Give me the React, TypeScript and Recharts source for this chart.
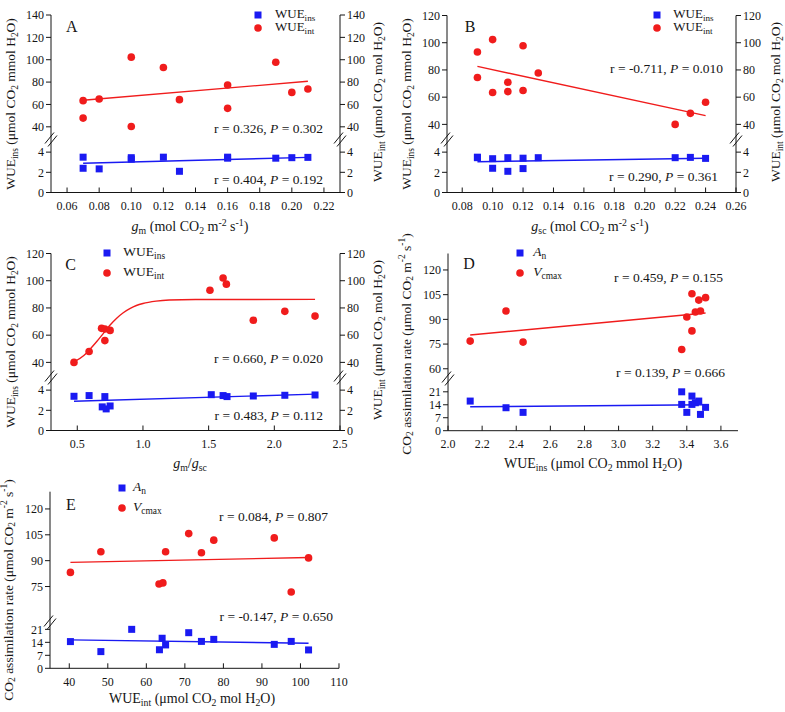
import React from "react";
import { ScatterChart, Scatter, XAxis, YAxis, Legend } from "recharts";

type Pt = { x: number; y: number };
const zip = (xs: number[], ys: number[]): Pt[] => xs.map((x, i) => ({ x, y: ys[i] }));

const FONT = "'Liberation Serif', 'Times New Roman', serif";
const INK = "#151515";
const BLUE = "#1a1af2";
const RED = "#f01c1c";
const X_AXIS_H = 30;

// A: WUE against mesophyll conductance
const gmX = [0.07, 0.07, 0.08, 0.1, 0.1, 0.12, 0.13, 0.16, 0.16, 0.19, 0.2, 0.21];
const gmWueInt = [63.4, 47.8, 64.9, 102.3, 40.3, 93, 64.3, 77.4, 56.5, 97.8, 70.8, 73.8];
const gmWueIns = [3.5, 2.4, 2.34, 3.3, 3.45, 3.5, 2.1, 3.4, 3.5, 3.4, 3.45, 3.48];
const gmFitX = [0.07, 0.21];
const gmFitInt = [63.8, 80.7];
const gmFitIns = [2.9, 3.48];

// B: WUE against stomatal conductance
const gscX = [0.09, 0.09, 0.1, 0.1, 0.11, 0.11, 0.12, 0.12, 0.13, 0.22, 0.23, 0.24];
const gscWueInt = [93.2, 74.5, 102.3, 63.4, 71, 64.1, 97.8, 64.9, 77.7, 40, 48.1, 56.3];
const gscWueIns = [3.5, 3.45, 3.35, 2.4, 3.45, 2.1, 3.4, 2.37, 3.45, 3.45, 3.48, 3.38];
const gscFitX = [0.09, 0.24];
const gscFitInt = [82.6, 46.4];
const gscFitIns = [3.05, 3.4];

// C: WUE against gm/gsc
const ratioIntX = [0.475, 0.59, 0.685, 0.71, 0.71, 0.75, 1.51, 1.61, 1.635, 1.84, 2.08, 2.31];
const ratioWueInt = [40, 48, 65, 64.5, 56, 63.5, 93, 102, 97.5, 71, 77.5, 74];
const ratioInsX = [0.475, 0.59, 0.69, 0.71, 0.72, 0.75, 1.52, 1.61, 1.64, 1.84, 2.08, 2.31];
const ratioWueIns = [3.39, 3.46, 2.34, 3.36, 2.14, 2.43, 3.55, 3.46, 3.36, 3.42, 3.49, 3.52];
const ratioCurveX = [0.475, 0.55, 0.6, 0.65, 0.7, 0.75, 0.8, 0.85, 0.9, 0.95, 1.0, 1.1, 1.2, 1.4, 2.31];
const ratioCurveY = [40.3, 45, 50, 55.5, 61.5, 67.5, 72.5, 76.5, 79.5, 81.8, 83.3, 85, 85.8, 86.2, 86.3];
const ratioFitX = [0.475, 2.31];
const ratioFitIns = [2.9, 3.6];

// D: An and Vcmax against WUEins
const insVX = [2.13, 2.34, 2.44, 3.37, 3.4, 3.43, 3.43, 3.45, 3.47, 3.48, 3.51];
const insVcmax = [76.8, 95.1, 76.2, 71.7, 91.4, 105.6, 83, 94.5, 101.7, 95.1, 103.2];
const insAX = [2.13, 2.34, 2.44, 3.37, 3.37, 3.4, 3.43, 3.43, 3.45, 3.47, 3.48, 3.51];
const insAn = [16, 12.4, 9.9, 21, 14.2, 9.9, 18.7, 14.2, 15.1, 16, 8.8, 12.6];
const insFitX = [2.13, 3.51];
const insFitV = [80.5, 93.9];
const insFitA = [12.9, 14];

// E: An and Vcmax against WUEint
const intVX = [40.3, 48.2, 63.3, 64.3, 65, 71, 74.3, 77.5, 93.2, 97.6, 102.1];
const intVcmax = [83.2, 95.2, 76.5, 77.1, 95.2, 105.7, 94.6, 101.9, 103.2, 71.8, 91.6];
const intAX = [40.3, 48.2, 56.2, 63.4, 64.1, 65, 71, 74.3, 77.5, 93.2, 97.6, 102.1];
const intAn = [14.4, 9, 21, 10, 16.2, 12.6, 19.2, 14.5, 15.6, 12.9, 14.5, 9.9];
const intFitX = [40.3, 102.1];
const intFitV = [89, 91.8];
const intFitA = [15.3, 13.5];

const Sub = ({ children }: { children: React.ReactNode }) => (
  <span style={{ fontSize: "0.7em", verticalAlign: "-0.3em" }}>{children}</span>
);
const Sup = ({ children }: { children: React.ReactNode }) => (
  <span style={{ fontSize: "0.7em", verticalAlign: "0.55em" }}>{children}</span>
);

const WueIns = () => <>WUE<Sub>ins</Sub></>;
const WueInt = () => <>WUE<Sub>int</Sub></>;
const An = () => <><i>A</i><Sub>n</Sub></>;
const Vcmax = () => <><i>V</i><Sub>cmax</Sub></>;

const Square = (p: any) => <rect x={p.cx - 3.5} y={p.cy - 3.5} width={7} height={7} fill={BLUE} />;
const Dot = (p: any) => <circle cx={p.cx} cy={p.cy} r={3.8} fill={RED} />;
const NoMark = () => <g />;

type Series = { pts: Pt[]; fit: Pt[]; curved?: boolean };
type LegendItem = { label: React.ReactNode; mark: "square" | "circle" };

interface PanelProps {
  left: number;
  right: number;
  top: number;
  plotL: number;
  plotR: number;
  plotT: number;
  brk: number;
  plotB: number;
  xDomain: [number, number];
  xTicks: number[];
  xDigits: number;
  upDomain: [number, number];
  upTicks: number[];
  lowDomain: [number, number];
  lowTicks: number[];
  rightAxis: boolean;
  upper: Series;
  lower: Series;
  legend: { items: LegendItem[]; mx: number; my: number; gap: number; tx: number; size: number };
}

function BrokenAxisPanel(p: PanelProps) {
  const width = p.right - p.left;
  const leftW = p.plotL - p.left;
  const rightW = p.right - p.plotR;
  const tick = { fontSize: 12, fontFamily: FONT, fill: INK };
  const line = { stroke: INK, strokeWidth: 1 };

  const yAxes = (domain: [number, number], ticks: number[]) => [
    <YAxis key="l" yAxisId="l" type="number" dataKey="y" domain={domain} ticks={ticks} allowDataOverflow
      interval={0} width={leftW} tickSize={5} tickMargin={2} tick={tick} axisLine={line} tickLine={line} />,
    p.rightAxis ? (
      <YAxis key="r" yAxisId="r" orientation="right" type="number" domain={domain} ticks={ticks} allowDataOverflow
        interval={0} width={rightW} tickSize={5} tickMargin={2} tick={tick} axisLine={line} tickLine={line} />
    ) : null,
  ];

  const series = (s: Series, color: string, mark: any) => [
    <Scatter key="fit" yAxisId="l" data={s.fit} line={{ stroke: color, strokeWidth: 1.4 }}
      lineJointType={s.curved ? "monotoneX" : "linear"} shape={NoMark} legendType="none" isAnimationActive={false} />,
    <Scatter key="pts" yAxisId="l" data={s.pts} shape={mark} isAnimationActive={false} />,
  ];

  const lg = p.legend;
  const legendContent = () => (
    <div style={{ fontFamily: FONT, fontSize: lg.size, color: INK, lineHeight: 1 }}>
      {lg.items.map((it, i) => (
        <div key={i} style={{ display: "flex", alignItems: "center", height: lg.gap }}>
          <svg width={10} height={10} style={{ flex: "none" }}>
            {it.mark === "square" ? (
              <rect x={1.5} y={1.5} width={7} height={7} fill={BLUE} />
            ) : (
              <circle cx={5} cy={5} r={3.8} fill={RED} />
            )}
          </svg>
          <span style={{ marginLeft: lg.tx - lg.mx - 5, whiteSpace: "nowrap" }}>{it.label}</span>
        </div>
      ))}
    </div>
  );

  // break marks where the y axis jumps from the lower to the upper scale
  const breakXs = p.rightAxis ? [p.plotL, p.plotR] : [p.plotL];
  const by = p.brk + 1.5;

  return (
    <>
      <div style={{ position: "absolute", left: p.left, top: p.top }}>
        <ScatterChart width={width} height={p.brk - p.top}
          margin={{ top: p.plotT - p.top, right: p.rightAxis ? 0 : rightW, bottom: 0, left: 0 }}>
          <XAxis type="number" dataKey="x" domain={p.xDomain} allowDataOverflow hide />
          {yAxes(p.upDomain, p.upTicks)}
          {series(p.upper, RED, Dot)}
          <Legend layout="vertical" align="center" verticalAlign="middle" content={legendContent}
            wrapperStyle={{ left: lg.mx - 5 - p.left, top: lg.my - lg.gap / 2 - p.top, width: "auto" }} />
        </ScatterChart>
      </div>
      <div style={{ position: "absolute", left: p.left, top: p.brk }}>
        <ScatterChart width={width} height={p.plotB - p.brk + X_AXIS_H}
          margin={{ top: 0, right: p.rightAxis ? 0 : rightW, bottom: 0, left: 0 }}>
          <XAxis type="number" dataKey="x" domain={p.xDomain} ticks={p.xTicks} allowDataOverflow interval={0}
            height={X_AXIS_H} tickSize={-5} tickMargin={14} tick={tick} axisLine={line} tickLine={line}
            tickFormatter={(v: number) => v.toFixed(p.xDigits)} />
          {yAxes(p.lowDomain, p.lowTicks)}
          {series(p.lower, BLUE, Square)}
        </ScatterChart>
      </div>
      <svg style={{ position: "absolute", left: 0, top: 0, pointerEvents: "none" }} width={785} height={712}>
        {breakXs.map((ax) => (
          <g key={ax} stroke={INK} strokeWidth={1}>
            <line x1={ax - 6} y1={by + 4} x2={ax + 3} y2={by - 7} />
            <line x1={ax - 3} y1={by + 7} x2={ax + 6} y2={by - 4} />
          </g>
        ))}
      </svg>
    </>
  );
}

function Note({ x, y, align = "center", rotate, size = 13.5, children }: {
  x: number; y: number; align?: "left" | "center" | "right"; rotate?: number; size?: number; children: React.ReactNode;
}) {
  const tx = align === "right" ? "-100%" : align === "left" ? "0%" : "-50%";
  return (
    <div style={{
      position: "absolute", left: x, top: y, whiteSpace: "nowrap", fontFamily: FONT, fontSize: size,
      lineHeight: 1.2, color: INK, transform: `translate(${tx}, -50%)${rotate ? ` rotate(${rotate}deg)` : ""}`,
    }}>
      {children}
    </div>
  );
}

const Stat = ({ r, pv }: { r: string; pv: string }) => <>r = {r}, <i>P</i> = {pv}</>;

const wueItems: LegendItem[] = [
  { label: <WueIns />, mark: "square" },
  { label: <WueInt />, mark: "circle" },
];
const photoItems: LegendItem[] = [
  { label: <An />, mark: "square" },
  { label: <Vcmax />, mark: "circle" },
];

const InsTitle = () => <><WueIns /> (μmol CO<Sub>2</Sub> mmol H<Sub>2</Sub>O)</>;
const IntTitle = () => <><WueInt /> (μmol CO<Sub>2</Sub> mol H<Sub>2</Sub>O)</>;
const RateTitle = () => <>CO<Sub>2</Sub> assimilation rate (μmol CO<Sub>2</Sub> m<Sup>-2</Sup> s<Sup>-1</Sup>)</>;

export default function App() {
  return (
    <div style={{ position: "absolute", left: 0, top: 0, width: 785, height: 712, background: "#fff", overflow: "hidden" }}>
      <BrokenAxisPanel
        left={0} right={390} top={5} plotL={51} plotR={340} plotT={15} brk={138} plotB={192.5}
        xDomain={[0.05, 0.23]} xTicks={[0.06, 0.08, 0.1, 0.12, 0.14, 0.16, 0.18, 0.2, 0.22]} xDigits={2}
        upDomain={[30, 140]} upTicks={[40, 60, 80, 100, 120, 140]}
        lowDomain={[0, 5.4]} lowTicks={[0, 2, 4]} rightAxis
        upper={{ pts: zip(gmX, gmWueInt), fit: zip(gmFitX, gmFitInt) }}
        lower={{ pts: zip(gmX, gmWueIns), fit: zip(gmFitX, gmFitIns) }}
        legend={{ items: wueItems, mx: 257.5, my: 14.5, gap: 13.5, tx: 275, size: 13 }}
      />
      <BrokenAxisPanel
        left={392} right={785} top={5} plotL={447} plotR={736} plotT={15.5} brk={138} plotB={192.5}
        xDomain={[0.07, 0.26]} xTicks={[0.08, 0.1, 0.12, 0.14, 0.16, 0.18, 0.2, 0.22, 0.24, 0.26]} xDigits={2}
        upDomain={[30, 120]} upTicks={[40, 60, 80, 100, 120]}
        lowDomain={[0, 5.4]} lowTicks={[0, 2, 4]} rightAxis
        upper={{ pts: zip(gscX, gscWueInt), fit: zip(gscFitX, gscFitInt) }}
        lower={{ pts: zip(gscX, gscWueIns), fit: zip(gscFitX, gscFitIns) }}
        legend={{ items: wueItems, mx: 656.7, my: 14.5, gap: 13.5, tx: 673.3, size: 13 }}
      />
      <BrokenAxisPanel
        left={0} right={390} top={243} plotL={51} plotR={340} plotT={253.5} brk={376} plotB={430.5}
        xDomain={[0.3, 2.5]} xTicks={[0.5, 1, 1.5, 2, 2.5]} xDigits={1}
        upDomain={[30, 120]} upTicks={[40, 60, 80, 100, 120]}
        lowDomain={[0, 5.4]} lowTicks={[0, 2, 4]} rightAxis
        upper={{ pts: zip(ratioIntX, ratioWueInt), fit: zip(ratioCurveX, ratioCurveY), curved: true }}
        lower={{ pts: zip(ratioInsX, ratioWueIns), fit: zip(ratioFitX, ratioFitIns) }}
        legend={{ items: wueItems, mx: 107.3, my: 253.3, gap: 19.4, tx: 123.3, size: 13.5 }}
      />
      <BrokenAxisPanel
        left={392} right={785} top={243} plotL={448} plotR={738} plotT={253.5} brk={377} plotB={430.7}
        xDomain={[2.0, 3.7]} xTicks={[2, 2.2, 2.4, 2.6, 2.8, 3, 3.2, 3.4, 3.6]} xDigits={1}
        upDomain={[55, 130]} upTicks={[60, 75, 90, 105, 120]}
        lowDomain={[0, 29]} lowTicks={[0, 7, 14, 21]} rightAxis={false}
        upper={{ pts: zip(insVX, insVcmax), fit: zip(insFitX, insFitV) }}
        lower={{ pts: zip(insAX, insAn), fit: zip(insFitX, insFitA) }}
        legend={{ items: photoItems, mx: 520, my: 253.3, gap: 19.4, tx: 533.3, size: 13.5 }}
      />
      <BrokenAxisPanel
        left={0} right={390} top={481} plotL={50} plotR={339} plotT={491.7} brk={621} plotB={668.3}
        xDomain={[35, 110]} xTicks={[40, 50, 60, 70, 80, 90, 100, 110]} xDigits={0}
        upDomain={[55, 130]} upTicks={[75, 90, 105, 120]}
        lowDomain={[0, 25.5]} lowTicks={[0, 7, 14, 21]} rightAxis={false}
        upper={{ pts: zip(intVX, intVcmax), fit: zip(intFitX, intFitV) }}
        lower={{ pts: zip(intAX, intAn), fit: zip(intFitX, intFitA) }}
        legend={{ items: photoItems, mx: 121.7, my: 488.3, gap: 19.4, tx: 133, size: 13.5 }}
      />

      {/* panel letters */}
      <Note x={71.7} y={27} size={16}>A</Note>
      <Note x={470} y={27} size={16}>B</Note>
      <Note x={70.7} y={265} size={16}>C</Note>
      <Note x={469} y={264} size={16}>D</Note>
      <Note x={71} y={505} size={16}>E</Note>

      {/* correlation statistics */}
      <Note x={323} y={129.3} align="right"><Stat r="0.326" pv="0.302" /></Note>
      <Note x={323} y={180} align="right"><Stat r="0.404" pv="0.192" /></Note>
      <Note x={723} y={69} align="right"><Stat r="-0.711" pv="0.010" /></Note>
      <Note x={718} y={176.7} align="right"><Stat r="0.290" pv="0.361" /></Note>
      <Note x={323} y={359.3} align="right"><Stat r="0.660" pv="0.020" /></Note>
      <Note x={323} y={416} align="right"><Stat r="0.483" pv="0.112" /></Note>
      <Note x={723} y={278.3} align="right"><Stat r="0.459" pv="0.155" /></Note>
      <Note x={725} y={372.7} align="right"><Stat r="0.139" pv="0.666" /></Note>
      <Note x={328} y={516.7} align="right"><Stat r="0.084" pv="0.807" /></Note>
      <Note x={333} y={616.7} align="right"><Stat r="-0.147" pv="0.650" /></Note>

      {/* axis titles */}
      <Note x={12} y={104} rotate={-90}><InsTitle /></Note>
      <Note x={379} y={102} rotate={-90}><IntTitle /></Note>
      <Note x={190} y={227} size={14}><i>g</i><Sub>m</Sub> (mol CO<Sub>2</Sub> m<Sup>-2</Sup> s<Sup>-1</Sup>)</Note>

      <Note x={408} y={104} rotate={-90}><InsTitle /></Note>
      <Note x={777} y={102} rotate={-90}><IntTitle /></Note>
      <Note x={590} y={227} size={14}><i>g</i><Sub>sc</Sub> (mol CO<Sub>2</Sub> m<Sup>-2</Sup> s<Sup>-1</Sup>)</Note>

      <Note x={12} y={342} rotate={-90}><InsTitle /></Note>
      <Note x={379} y={340} rotate={-90}><IntTitle /></Note>
      <Note x={190} y={465} size={14}><i>g</i><Sub>m</Sub>/<i>g</i><Sub>sc</Sub></Note>

      <Note x={407} y={344} rotate={-90}><RateTitle /></Note>
      <Note x={593} y={465} size={14}><InsTitle /></Note>

      <Note x={9} y={590} rotate={-90}><RateTitle /></Note>
      <Note x={192} y={700} size={14}><IntTitle /></Note>
    </div>
  );
}
